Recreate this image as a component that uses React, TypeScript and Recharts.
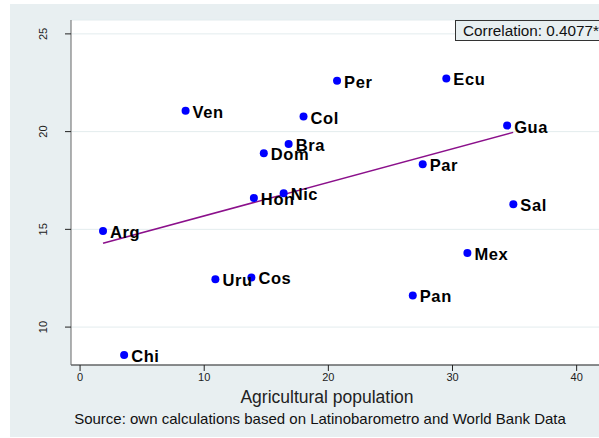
import {
  ScatterChart,
  Scatter,
  XAxis,
  YAxis,
  CartesianGrid,
  ReferenceLine,
} from 'recharts'

// countries (short names as printed next to the dots)
const countries = ['Per', 'Ecu', 'Col', 'Gua', 'Bra', 'Dom', 'Par', 'Hon', 'Nic', 'Sal', 'Mex', 'Cos', 'Pan', 'Ven', 'Uru', 'Arg', 'Chi']
// agricultural population (x)
const agriPop = [20.7, 29.5, 18.0, 34.4, 16.8, 14.8, 27.6, 14.0, 16.4, 34.9, 31.2, 13.8, 26.8, 8.5, 10.9, 1.85, 3.55]
// y values
const yValues = [22.6, 22.72, 20.77, 20.31, 19.37, 18.89, 18.33, 16.6, 16.85, 16.28, 13.79, 12.54, 11.62, 21.07, 12.45, 14.91, 8.57]

// fitted line end points
const fitX = [1.85, 34.89]
const fitY = [14.29, 19.96]

const xTicks = [0, 10, 20, 30, 40]
const yTicks = [10, 15, 20, 25]

const font = '"Liberation Sans", Arial, sans-serif'

const data = countries.map((name, i) => ({ name, x: agriPop[i], y: yValues[i] }))

const Dot = (props: any) => {
  const { cx, cy, payload } = props
  return (
    <g>
      <circle cx={cx} cy={cy} r={4} fill="#0000ff" />
      <text x={cx + 7} y={cy + 7} fontSize={16.5} letterSpacing={0.6} fontWeight="bold" fontFamily={font} fill="#000">
        {payload.name}
      </text>
    </g>
  )
}

const YTick = (props: any) => {
  const { y, payload } = props
  return (
    <text
      x={0}
      y={0}
      transform={`translate(47, ${y}) rotate(-90)`}
      textAnchor="middle"
      fontSize={11}
      fontFamily={font}
      fill="#222"
    >
      {payload.value}
    </text>
  )
}

export default function App() {
  return (
    <div style={{ position: 'absolute', left: 0, top: 0, width: 599, height: 438, overflow: 'hidden', background: '#fff', fontFamily: font }}>
      <div style={{ position: 'absolute', left: 10, top: 4, width: 589, height: 433, background: '#e8eff1' }} />
      <div style={{ position: 'absolute', left: 0, top: 0 }}>
        <ScatterChart width={599} height={438} margin={{ top: 20, right: 0, bottom: 43, left: 11 }}>
          <CartesianGrid vertical={false} fill="#fff" stroke="#e3ecee" strokeWidth={1} />
          <XAxis
            type="number"
            dataKey="x"
            domain={[-0.73, 41.8]}
            ticks={xTicks}
            allowDataOverflow
            height={30}
            tick={{ fontSize: 11, fill: '#222', fontFamily: font }}
            tickSize={6}
            tickLine={{ stroke: '#222' }}
            axisLine={{ stroke: '#222' }}
            label={{
              content: () => (
                <text x={327} y={403} textAnchor="middle" fontSize={17.5} fontFamily={font} fill="#222">
                  Agricultural population
                </text>
              ),
            }}
          />
          <YAxis
            type="number"
            dataKey="y"
            domain={[8.06, 25.71]}
            ticks={yTicks}
            allowDataOverflow
            width={60}
            tick={<YTick />}
            tickSize={6}
            tickLine={{ stroke: '#222' }}
            axisLine={{ stroke: '#666' }}
          />
          <Scatter data={data} shape={<Dot />} isAnimationActive={false} />
          <ReferenceLine
            segment={[
              { x: fitX[0], y: fitY[0] },
              { x: fitX[1], y: fitY[1] },
            ]}
            stroke="#8b108b"
            strokeWidth={1.5}
            ifOverflow="visible"
          />
        </ScatterChart>
      </div>
      <div
        style={{
          position: 'absolute',
          left: 455,
          top: 20,
          width: 160,
          height: 21,
          boxSizing: 'border-box',
          border: '1px solid #333',
          background: '#e8eff1',
          fontSize: 15.3,
          lineHeight: '19px',
          paddingLeft: 7,
          color: '#111',
          whiteSpace: 'nowrap',
        }}
      >
        Correlation: 0.4077*
      </div>
      <div
        style={{
          position: 'absolute',
          left: 0,
          width: 640,
          top: 410,
          textAlign: 'center',
          fontSize: 15,
          color: '#111',
          whiteSpace: 'nowrap',
        }}
      >
        Source: own calculations based on Latinobarometro and World Bank Data
      </div>
    </div>
  )
}
